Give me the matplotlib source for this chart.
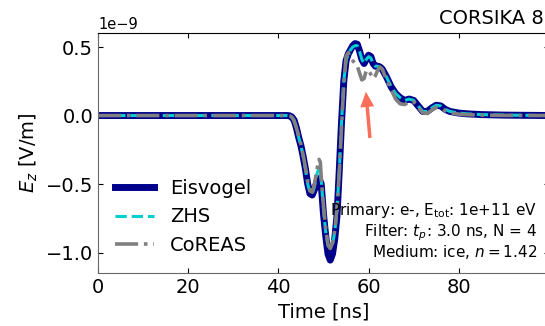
import numpy as np
import matplotlib
matplotlib.use("Agg")
import matplotlib.pyplot as plt

# time samples [ns] and field values [1e-9 V/m]
t_eis = [0, 40, 42, 42.5, 43, 43.5, 44, 44.5, 45, 45.5, 46, 46.5, 47, 47.5, 48, 48.5,
         49, 49.5, 50, 50.5, 51, 51.5, 52, 52.5, 53, 53.5, 54, 54.5, 55, 55.5, 56, 56.5,
         57, 57.5, 58, 58.5, 59, 59.5, 60, 60.5, 61, 61.5, 62, 62.5, 63, 64, 65, 66,
         67, 68, 69, 70, 71, 72, 73, 74, 75, 76, 77, 78, 80, 82, 85, 90, 100]
e_eis = [0, 0, 0, -0.002, -0.012, -0.035, -0.09, -0.16, -0.22, -0.30, -0.39, -0.50, -0.57, -0.58, -0.54, -0.49,
         -0.46, -0.50, -0.72, -0.88, -1.01, -1.055, -1.01, -0.90, -0.73, -0.40, -0.05, 0.25, 0.40, 0.45, 0.48, 0.51,
         0.525, 0.52, 0.47, 0.41, 0.38, 0.41, 0.44, 0.43, 0.38, 0.36, 0.36, 0.355, 0.34, 0.28, 0.21, 0.16,
         0.13, 0.11, 0.12, 0.11, 0.07, 0.03, 0.03, 0.055, 0.075, 0.07, 0.045, 0.03, 0.018, 0.012, 0.007, 0.003, 0]

t_zhs = t_eis
e_zhs = [0, 0, 0, -0.002, -0.012, -0.035, -0.09, -0.16, -0.22, -0.30, -0.39, -0.50, -0.56, -0.57, -0.52, -0.43,
         -0.38, -0.47, -0.68, -0.85, -0.95, -0.97, -0.94, -0.85, -0.69, -0.40, -0.05, 0.25, 0.40, 0.45, 0.48, 0.50,
         0.51, 0.51, 0.47, 0.41, 0.38, 0.41, 0.43, 0.42, 0.38, 0.36, 0.36, 0.35, 0.34, 0.28, 0.21, 0.16,
         0.13, 0.11, 0.12, 0.11, 0.07, 0.03, 0.03, 0.055, 0.075, 0.07, 0.045, 0.03, 0.018, 0.012, 0.007, 0.003, 0]

t_cor = [0, 40, 42, 42.5, 43, 43.5, 44, 44.5, 45, 45.5, 46, 46.5, 47, 47.5, 48, 48.5,
         49, 49.3, 49.5, 50, 50.5, 51, 51.5, 52, 52.5, 53, 53.5, 54, 54.5, 55, 55.5, 56, 56.5,
         57, 57.5, 58, 58.5, 59, 59.5, 60, 60.5, 61, 61.5, 62, 62.5, 63, 64, 65, 66,
         67, 68, 69, 70, 71, 72, 73, 74, 75, 76, 77, 78, 80, 82, 85, 90, 100]
e_cor = [0, 0, 0, -0.002, -0.012, -0.04, -0.09, -0.15, -0.21, -0.29, -0.38, -0.48, -0.55, -0.56, -0.50, -0.40,
         -0.32, -0.34, -0.45, -0.66, -0.83, -0.94, -0.97, -0.93, -0.84, -0.68, -0.42, -0.08, 0.22, 0.43, 0.46, 0.42, 0.40,
         0.38, 0.36, 0.31, 0.26, 0.27, 0.33, 0.33, 0.30, 0.27, 0.29, 0.33, 0.355, 0.34, 0.26, 0.19, 0.12,
         0.085, 0.08, 0.10, 0.10, 0.06, 0.02, 0.015, 0.04, 0.06, 0.055, 0.035, 0.02, 0.01, 0.006, 0.003, 0.001, 0]

info_lines = ["Primary: e-, E$_{\\mathrm{tot}}$: 1e+11 eV",
              "Filter: $t_p$: 3.0 ns, N = 4",
              "Medium: ice, $n = 1.42$"]

fig = plt.figure(figsize=(5.45, 3.26), dpi=100)
# axes runs past the right edge of the figure, like the cropped original
ax = fig.add_axes([0.1798, 0.1635, 0.8275, 0.736])

ax.plot(t_eis, np.array(e_eis) * 1e-9, color="#00008B", lw=5, label="Eisvogel")
ax.plot(t_zhs, np.array(e_zhs) * 1e-9, color="darkturquoise", lw=2.2, ls="--", label="ZHS")
ax.plot(t_cor, np.array(e_cor) * 1e-9, color="grey", lw=2.6, ls="-.", label="CoREAS")

ax.set_xlim(0, 100)
ax.set_ylim(-1.147e-9, 0.604e-9)
ax.set_xticks([0, 20, 40, 60, 80])
ax.set_yticks([-1e-9, -0.5e-9, 0, 0.5e-9])
ax.tick_params(direction="in", top=True, right=True, labelsize=14, length=3.5)
ax.yaxis.get_offset_text().set_fontsize(10.5)
ax.spines["left"].set_color("dimgray")
ax.spines["bottom"].set_color("dimgray")

ax.set_xlabel("Time [ns]", fontsize=14)
ax.set_ylabel("$E_z$ [V/m]", fontsize=14)

ax.legend(loc="lower left", frameon=False, fontsize=14)

ys = [0.240, 0.153, 0.065]
for line, y in zip(info_lines, ys):
    ax.text(0.973, y, line, transform=ax.transAxes, ha="right", va="baseline", fontsize=11)

ax.annotate("", xy=(59.4, 0.174e-9), xytext=(60.3, -0.164e-9),
            arrowprops=dict(facecolor="#fa6e5a", edgecolor="none", width=2.5,
                            headwidth=10, headlength=11))

fig.text(0.998, 0.926, "CORSIKA 8", ha="right", va="baseline", fontsize=14)

fig.savefig("out.png", dpi=100)
